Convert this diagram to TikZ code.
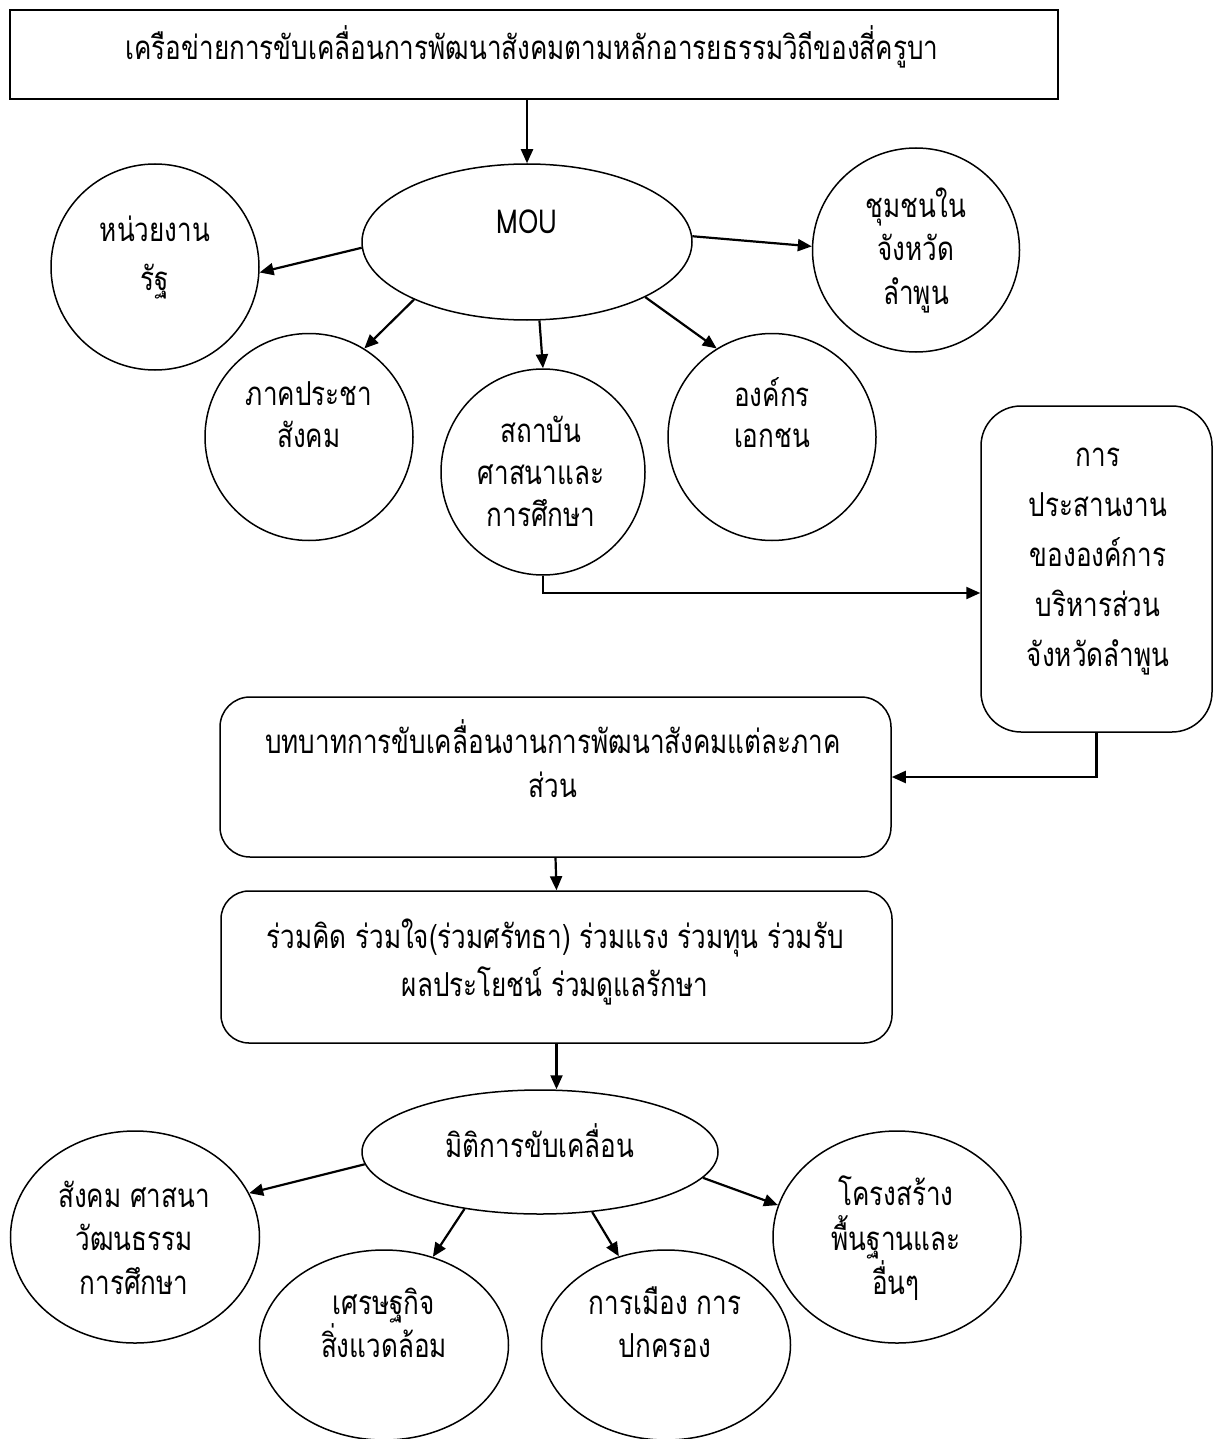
\documentclass[tikz,border=0pt]{standalone}
\usepackage{fontspec}
\newfontfamily\thai[Script=Thai,FakeStretch=0.79]{Loma}
\usetikzlibrary{shapes.geometric,arrows.meta,calc}
\begin{document}
\begin{tikzpicture}[x=1pt,y=-1pt,
  shp/.style={draw,line width=1.5pt,inner sep=0pt},
  ell/.style={shp,ellipse},
  txt/.style={anchor=base,inner sep=0pt,font=\thai\fontsize{33}{38}\selectfont},
  arr/.style={line width=2.2pt,-{Triangle[length=14pt,width=12pt]}}
]
\useasboundingbox[fill=white] (0,0) rectangle (1219,1439);
% shapes
\node[shp,minimum width=1048pt,minimum height=89pt] (top) at (534,54.5) {};
\node[ell,minimum width=330pt,minimum height=156pt] (mou) at (527,242) {};
\node[ell,minimum width=208pt,minimum height=206pt] (hn) at (155,267) {};
\node[ell,minimum width=208pt,minimum height=207pt] (pk) at (309,437) {};
\node[ell,minimum width=204pt,minimum height=206pt] (sb) at (543,472) {};
\node[ell,minimum width=208pt,minimum height=207pt] (ok) at (772,437) {};
\node[ell,minimum width=207pt,minimum height=204pt] (cm) at (916,250) {};
\node[shp,rounded corners=40pt,minimum width=231pt,minimum height=326pt] (prs) at (1096.5,569) {};
\node[shp,rounded corners=30pt,minimum width=671pt,minimum height=160pt] (btb) at (555.5,777) {};
\node[shp,rounded corners=28pt,minimum width=671pt,minimum height=152pt] (rk) at (556.5,967) {};
\node[ell,minimum width=356pt,minimum height=124pt] (mt) at (540,1152) {};
\node[ell,minimum width=249pt,minimum height=212pt] (s1) at (135,1237) {};
\node[ell,minimum width=249pt,minimum height=190pt] (s2) at (384,1345) {};
\node[ell,minimum width=249pt,minimum height=190pt] (s3) at (666,1345) {};
\node[ell,minimum width=248pt,minimum height=212pt] (s4) at (897,1237) {};
% texts
\node[txt] (ttop) at (532,60) {เครือข่ายการขับเคลื่อนการพัฒนาสังคมตามหลักอารยธรรมวิถีของสี่ครูบา};
\node[txt] (tmou) at (527,234) {MOU};
\node[txt] (thn1) at (155,242) {หน่วยงาน};
\node[txt] (thn2) at (155,290) {รัฐ};
\node[txt] (tpk1) at (309,405) {ภาคประชา};
\node[txt] (tpk2) at (309,447) {สังคม};
\node[txt] (tsb1) at (541,442) {สถาบัน};
\node[txt] (tsb2) at (541,484) {ศาสนาและ};
\node[txt] (tsb3) at (541,526) {การศึกษา};
\node[txt] (tok1) at (772,406) {องค์กร};
\node[txt] (tok2) at (772,447) {เอกชน};
\node[txt] (tcm1) at (916,218) {ชุมชนใน};
\node[txt] (tcm2) at (916,260) {จังหวัด};
\node[txt] (tcm3) at (916,304) {ลำพูน};
\node[txt] (tpr1) at (1098,466) {การ};
\node[txt] (tpr2) at (1098,516) {ประสานงาน};
\node[txt] (tpr3) at (1098,566) {ขององค์การ};
\node[txt] (tpr4) at (1098,616) {บริหารส่วน};
\node[txt] (tpr5) at (1098,666) {จังหวัดลำพูน};
\node[txt] (tbt1) at (553,753) {บทบาทการขับเคลื่อนงานการพัฒนาสังคมแต่ละภาค};
\node[txt] (tbt2) at (553,797) {ส่วน};
\node[txt] (trk1) at (555,948) {ร่วมคิด ร่วมใจ(ร่วมศรัทธา) ร่วมแรง ร่วมทุน ร่วมรับ};
\node[txt] (trk2) at (555,996) {ผลประโยชน์ ร่วมดูแลรักษา};
\node[txt] (tmt) at (540,1157) {มิติการขับเคลื่อน};
\node[txt] (ts11) at (134,1207) {สังคม ศาสนา};
\node[txt] (ts12) at (134,1250) {วัฒนธรรม};
\node[txt] (ts13) at (134,1294) {การศึกษา};
\node[txt] (ts21) at (384,1314) {เศรษฐกิจ};
\node[txt] (ts22) at (384,1357) {สิ่งแวดล้อม};
\node[txt] (ts31) at (665,1314) {การเมือง การ};
\node[txt] (ts32) at (665,1357) {ปกครอง};
\node[txt] (ts41) at (896,1205) {โครงสร้าง};
\node[txt] (ts42) at (896,1250) {พื้นฐานและ};
\node[txt] (ts43) at (896,1294) {อื่นๆ};
% connectors
\draw[arr] (top.south -| mou.north) -- (mou.north);
\draw[arr] (mou.182) -- (hn.-3);
\draw[arr] (mou.207) -- (pk.58);
\draw[arr] (mou.279) -- (sb.90);
\draw[arr] (mou.-25) -- (ok.122);
\draw[arr] (mou.2) -- (cm.178);
\coordinate (c1) at (541,593);
\draw[arr] (sb.south) |- (prs.west |- c1);
\draw[arr] (prs.south) |- (btb.east);
\draw[arr] (btb.south) -- (rk.north);
\draw[arr] (rk.south) -- (rk.south |- mt.north);
\draw[arr] (mt.184) -- (s1.21);
\draw[arr] (mt.217) -- (s2.61);
\draw[arr] (mt.-49) -- (s3.118);
\draw[arr] (mt.-9) -- (s4.165);
\end{tikzpicture}
\end{document}
